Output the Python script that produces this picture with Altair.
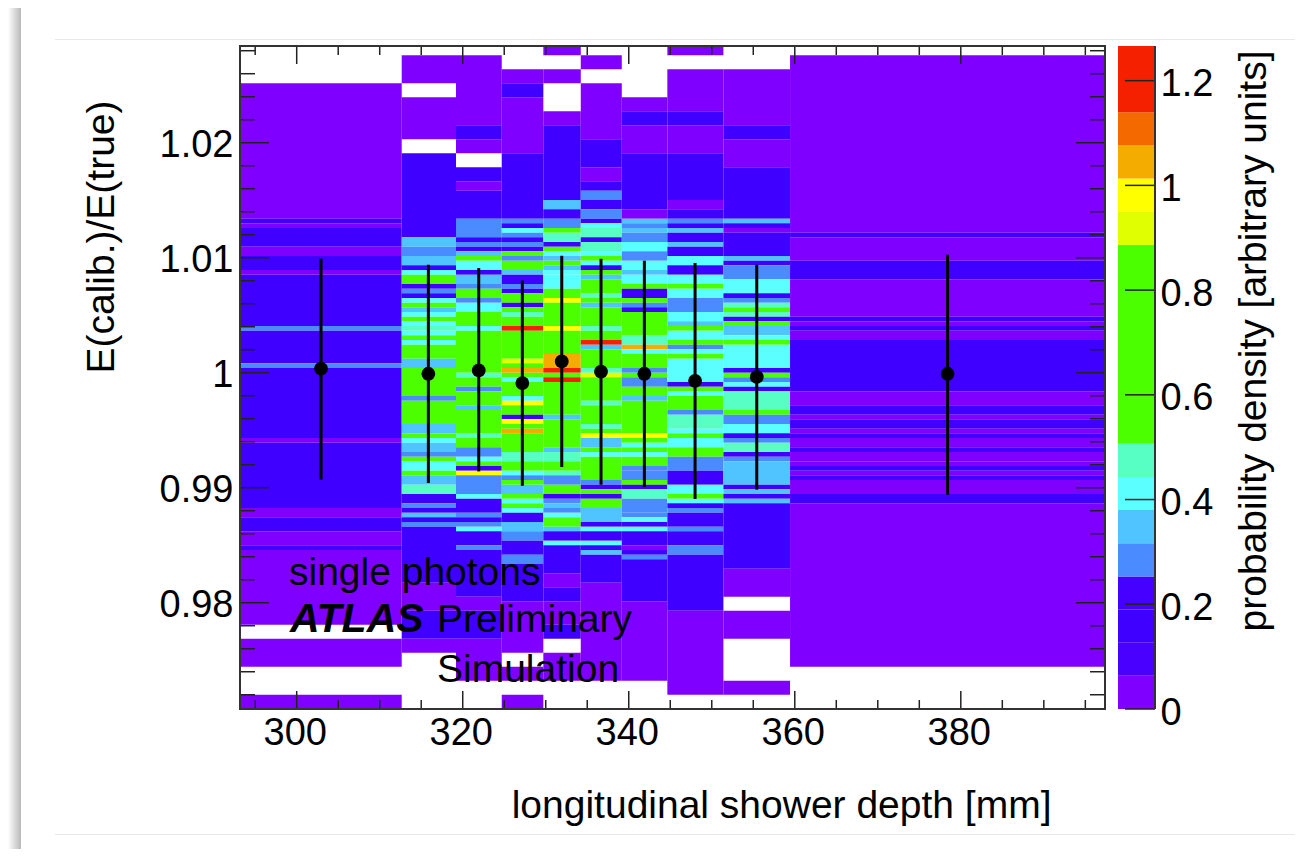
import altair as alt
import pandas as pd

FONT = "Liberation Sans"
X_DOMAIN = [293.17, 397.37]
Y_DOMAIN = [0.97076, 1.02841]
Z_DOMAIN = [0, 1.2662]

bin_edges = [293.17, 312.65, 319.19, 324.70, 329.71, 334.22, 339.16, 344.65, 351.40, 359.43, 397.37]
row_height = 0.0004058

# Each column: runs of <count><band letter>, top to bottom; "." is an empty bin
columns = [
    "8. 29p 1b 1p 4b 2p 3b 1p 11b 1m 7b 1m 15b 1p 14b 2p 3b 3p 1b 16p 3. 6p 6. 3p",
    "2. 6p 3. 9p 3. 18b 2c 2m 2c 1b 1a 2g 1b 1m 1b 1a 1g 1c 1a 1g 1a 1t 1a 1g 1a 3g 2c 6g 1m 5g 2c 1g 1a 2c 1m 1g 2a 1g 2c 2t 2b 1m 1b 1c 1b 1m 12b 6p 6b 3p 12.",
    "2. 15p 3b 3p 3. 3b 2p 6b 4m 1b 1m 1b 1c 1g 2a 1b 2c 1m 2g 1m 2a 3g 1a 9g 1t 2g 1m 3g 1c 5g 1t 2g 2m 1a 1g 1b 1y 4m 1a 3b 1m 1b 1m 1a 3b 1m 10b 3p 6b 9p 6.",
    "5. 3p 3b 12p 14b 1m 1b 1a 1m 1b 1m 1b 1g 1m 2g 1c 2b 1m 1b 2g 1b 1g 1t 2g 1R 6g 1l 1g 1o 1g 1a 3g 1a 1y 2g 1b 1y 1g 1o 4g 2t 2g 1a 1m 1g 2c 1g 1a 1g 1a 2b 2c 2m 3b 2m 8b 11p 3. 3p 3. 3p",
    "2p 3. 3p 6. 3p 16b 2c 2b 2m 1g 2t 1b 1g 1a 1c 1g 1c 1a 2a 1a 2g 1y 5g 1y 5g 3o 1R 1g 1R 7g 1c 6g 1c 2t 2g 1t 2m 2g 1b 1m 1c 1m 1a 2g 1c 2b 1a 6b 3p 3b 5p 3b 3. 6p 6.",
    "2. 3p 3. 12p 6b 3p 2b 2m 2b 2m 1b 1a 2t 1b 2t 1a 1g 1a 1b 1g 1c 3g 1t 1g 1c 4g 1t 2g 1R 1c 4g 1t 1l 5g 1t 4g 1t 1g 1y 2c 1g 1a 5g 1m 1b 1g 1b 2g 3c 1b 1a 2b 1a 1b 1c 6b 21p 6.",
    "11. 3p 3b 6p 12b 2p 1c 1m 1c 2m 2a 2m 2a 1c 2a 1g 2b 1g 1m 1b 5g 2t 1o 1a 3g 1m 1g 2m 2g 1c 7g 1y 1g 1a 1g 1a 2g 1m 2m 1g 1b 2t 3m 1m 1a 1b 1a 3b 1p 1b 1m 9b 17p 6.",
    "2p 3. 9p 3b 6p 10b 2p 2b 1m 1b 1c 2b 1c 2b 2a 2b 2a 1g 2a 3m 2a 1c 1g 2a 1g 1m 1a 1g 5a 1b 1g 1a 3g 1m 3t 1a 1g 2a 2g 3m 3b 2a 1g 1a 1b 1m 3b 1m 3b 2m 12b 18p 3.",
    "5. 12p 3b 6p 11b 1c 1b 1p 5b 1c 1b 3m 3a 1b 1m 1t 1g 1t 1b 1g 2c 1a 1g 5a 1b 1g 1m 1a 1b 4t 1g 2m 2a 1b 1m 2t 1b 1m 5c 1b 1c 1b 1c 14b 6p 3. 6p 9. 3p 3.",
    "2. 38p 1b 5p 4b 8p 1b 1p 1b 2p 11b 3p 2b 1p 2b 1p 1b 2p 1b 2p 1p 1b 1p 1b 3p 2b 35p 9.",
]

band_of_letter = {"p": 0, "b": 2, "m": 4, "c": 5, "a": 6, "t": 7, "g": 10,
                  "l": 14, "y": 15, "o": 16, "r": 17, "R": 18}
band_colors = ["#7F00FF", "#4A00FF", "#3F00FF", "#4500FF", "#4A8CFF", "#50C4FF", "#5CFFFF",
               "#57FFC4", "#4CFF00", "#4CFF00", "#4CFF00", "#4CFF00", "#4CFF00", "#4CFF00",
               "#E0FF00", "#FFFF00", "#F5AC00", "#F56A00", "#F52000", "#F52000"]
band_width = Z_DOMAIN[1] / len(band_colors)

point_x = [302.93, 315.86, 321.93, 327.18, 331.93, 336.66, 341.88, 347.99, 355.42, 378.41]
point_y = [1.00035, 0.99991, 1.00020, 0.99910, 1.00098, 1.00009, 0.99991, 0.99930, 0.99963, 0.99991]
err_top = [1.00991, 1.00939, 1.00910, 1.00803, 1.01017, 1.00991, 1.00974, 1.00954, 1.00939, 1.01026]
err_bot = [0.99070, 0.99041, 0.99142, 0.99017, 0.99180, 0.99026, 0.99006, 0.98902, 0.98983, 0.98939]

x_major = [300, 320, 340, 360, 380]
x_minor = [295, 305, 310, 315, 325, 330, 335, 345, 350, 355, 365, 370, 375, 385, 390, 395]
y_major = [0.98, 0.99, 1.00, 1.01, 1.02]
y_minor = [0.972, 0.974, 0.976, 0.978, 0.982, 0.984, 0.986, 0.988, 0.992, 0.994, 0.996, 0.998,
           1.002, 1.004, 1.006, 1.008, 1.012, 1.014, 1.016, 1.018, 1.022, 1.024, 1.026, 1.028]
z_major = [0, 0.2, 0.4, 0.6, 0.8, 1.0, 1.2]

# Build cells from the run lists
cells = []
for c, col in enumerate(columns):
    row = 0
    for run in col.split():
        n, letter = int(run[:-1]), run[-1]
        if letter != ".":
            band = band_of_letter[letter]
            cells.append({
                "x0": bin_edges[c], "x1": bin_edges[c + 1],
                "y1": Y_DOMAIN[1] - row * row_height,
                "y0": Y_DOMAIN[1] - (row + n) * row_height,
                "density": (band + 0.5) * band_width,
            })
        row += n
cells = pd.DataFrame(cells)

# Colour bar: neighbouring bands of one colour form one block
bar_rows = []
for i, colour in enumerate(band_colors):
    if i and band_colors[i - 1] == colour:
        bar_rows[-1]["z1"] = (i + 1) * band_width
    else:
        bar_rows.append({"z0": i * band_width, "z1": (i + 1) * band_width,
                         "density": (i + 0.5) * band_width})
bar = pd.DataFrame(bar_rows)
points = pd.DataFrame({"x": point_x, "y": point_y, "top": err_top, "bot": err_bot})

xs = alt.Scale(domain=X_DOMAIN, nice=False, zero=False)
ys = alt.Scale(domain=Y_DOMAIN, nice=False, zero=False)
zs = alt.Scale(domain=Z_DOMAIN, nice=False, zero=True)
cs = alt.Scale(type="quantize", domain=Z_DOMAIN, range=band_colors)

W, H = 865, 663
TICK = "#222222"
SIZE = 39
LABEL = 38
one = alt.Data(values=[{"k": 1}])

x_axis = alt.Axis(values=x_major, ticks=False, domain=False, grid=False, format="d",
                  labelFont=FONT, labelFontSize=LABEL, labelColor="black", labelPadding=5,
                  labelOffset=-2, labelOverlap=False, labelFlush=False,
                  title="longitudinal shower depth [mm]", titleFont=FONT, titleFontSize=SIZE,
                  titleFontWeight="normal", titleColor="black",
                  titleX=1051 - 240, titleY=817 - 46 - H, titleAlign="right",
                  titleBaseline="alphabetic")
y_axis = alt.Axis(values=y_major, ticks=False, domain=False, grid=False, format=".4~g",
                  labelFont=FONT, labelFontSize=LABEL, labelColor="black", labelPadding=7,
                  labelOffset=3, labelOverlap=False, labelFlush=False,
                  title="E(calib.)/E(true)", titleFont=FONT, titleFontSize=SIZE,
                  titleFontWeight="normal", titleColor="black",
                  titleX=113 - 240, titleY=100 - 46, titleAngle=270, titleAlign="right",
                  titleBaseline="alphabetic")
z_axis = alt.Axis(values=z_major, orient="right", offset=50, ticks=False, domain=False, grid=False,
                  format=".2~g", labelFont=FONT, labelFontSize=LABEL, labelColor="black",
                  labelPadding=5, labelOffset=4, labelOverlap=False, labelFlush=False,
                  title="probability density [arbitrary units]", titleFont=FONT, titleFontSize=SIZE,
                  titleFontWeight="normal", titleColor="black",
                  titleX=1265 - 1155, titleY=50 - 46, titleAngle=270, titleAlign="right",
                  titleBaseline="alphabetic")

# Page furniture of the slide
shadow = alt.Chart(one).mark_rect(
    fill=alt.Gradient(gradient="linear", x1=0, x2=1, y1=0, y2=0,
                      stops=[alt.GradientStop(color="#FFFFFF", offset=0),
                             alt.GradientStop(color="#B8B8B8", offset=1)])
).encode(x=alt.value(-232), x2=alt.value(-219), y=alt.value(-38), y2=alt.value(803))
top_line = alt.Chart(one).mark_rule(color="#E8E8E8", strokeWidth=1).encode(
    x=alt.value(55 - 240), x2=alt.value(1295 - 240), y=alt.value(39.5 - 46))
bottom_line = alt.Chart(one).mark_rule(color="#E8E8E8", strokeWidth=1).encode(
    x=alt.value(55 - 240), x2=alt.value(1295 - 240), y=alt.value(834.5 - 46))

heat = alt.Chart(cells).mark_rect().encode(
    x=alt.X("x0:Q", scale=xs, axis=x_axis), x2="x1:Q",
    y=alt.Y("y0:Q", scale=ys, axis=y_axis), y2="y1:Q",
    color=alt.Color("density:Q", scale=cs, legend=None),
)
errs = alt.Chart(points).mark_rule(color="black", strokeWidth=3).encode(
    x=alt.X("x:Q", scale=xs), y=alt.Y("bot:Q", scale=ys), y2="top:Q")
dots = alt.Chart(points).mark_point(filled=True, color="black", size=190, opacity=1).encode(
    x=alt.X("x:Q", scale=xs), y=alt.Y("y:Q", scale=ys))


def vticks(vals, y0, y1, size):
    return alt.Chart(pd.DataFrame({"t": vals})).mark_rule(color=TICK, strokeWidth=size).encode(
        x=alt.X("t:Q", scale=xs), y=alt.value(y0), y2=alt.value(y1))


def hticks(vals, x0, x1, size):
    return alt.Chart(pd.DataFrame({"t": vals})).mark_rule(color=TICK, strokeWidth=size).encode(
        y=alt.Y("t:Q", scale=ys), x=alt.value(x0), x2=alt.value(x1))


ticks = [
    vticks(x_major, H, H - 18, 1.5), vticks(x_minor, H, H - 9, 1.5),
    vticks(x_major, 0, 18, 1.5), vticks(x_minor, 0, 9, 1.5),
    hticks(y_major, 0, 29, 1.5), hticks(y_minor, 0, 15, 1.5),
    hticks(y_major, W - 29, W, 1.5), hticks(y_minor, W - 15, W, 1.5),
]

note_data = pd.DataFrame({
    "x": [299.07, 316.90, 316.90],
    "y": [0.98157, 0.97748, 0.97313],
    "text": ["single photons", "Preliminary", "Simulation"],
})
notes = alt.Chart(note_data).mark_text(
    font=FONT, fontSize=SIZE, color="black", align="left", baseline="alphabetic"
).encode(x=alt.X("x:Q", scale=xs), y=alt.Y("y:Q", scale=ys), text="text:N")
atlas = alt.Chart(pd.DataFrame({"x": [299.19], "y": [0.97748], "text": ["ATLAS"]})).mark_text(
    font=FONT, fontSize=41, fontWeight="bold", fontStyle="italic", color="black",
    align="left", baseline="alphabetic"
).encode(x=alt.X("x:Q", scale=xs), y=alt.Y("y:Q", scale=ys), text="text:N")

frame = alt.Chart(one).mark_rect(filled=False, stroke="#333333", strokeWidth=2).encode(
    x=alt.value(0), x2=alt.value(W), y=alt.value(0), y2=alt.value(H))

main = alt.layer(shadow, top_line, bottom_line, heat, errs, dots, *ticks, notes, atlas, frame)

bar_rects = alt.Chart(bar).mark_rect().encode(
    x=alt.value(878), x2=alt.value(915),
    y=alt.Y("z0:Q", scale=zs, axis=z_axis), y2="z1:Q",
    color=alt.Color("density:Q", scale=cs, legend=None),
)
bar_ticks = alt.Chart(pd.DataFrame({"t": z_major})).mark_rule(color=TICK, strokeWidth=1.5).encode(
    y=alt.Y("t:Q", scale=zs), x=alt.value(885), x2=alt.value(915))
bar_edge = alt.Chart(one).mark_rule(color="#333333", strokeWidth=2).encode(
    x=alt.value(915), y=alt.value(0), y2=alt.value(H))
side = alt.layer(bar_rects, bar_ticks, bar_edge)

chart = alt.layer(main, side).resolve_scale(y="independent").properties(
    width=W, height=H,
    padding={"left": 232, "top": 38, "right": 198, "bottom": 140},
    autosize=alt.AutoSizeParams(type="none"),
    background="white",
).configure_view(stroke=None)

chart.save("out.html", embed_options={"renderer": "svg", "actions": False})
